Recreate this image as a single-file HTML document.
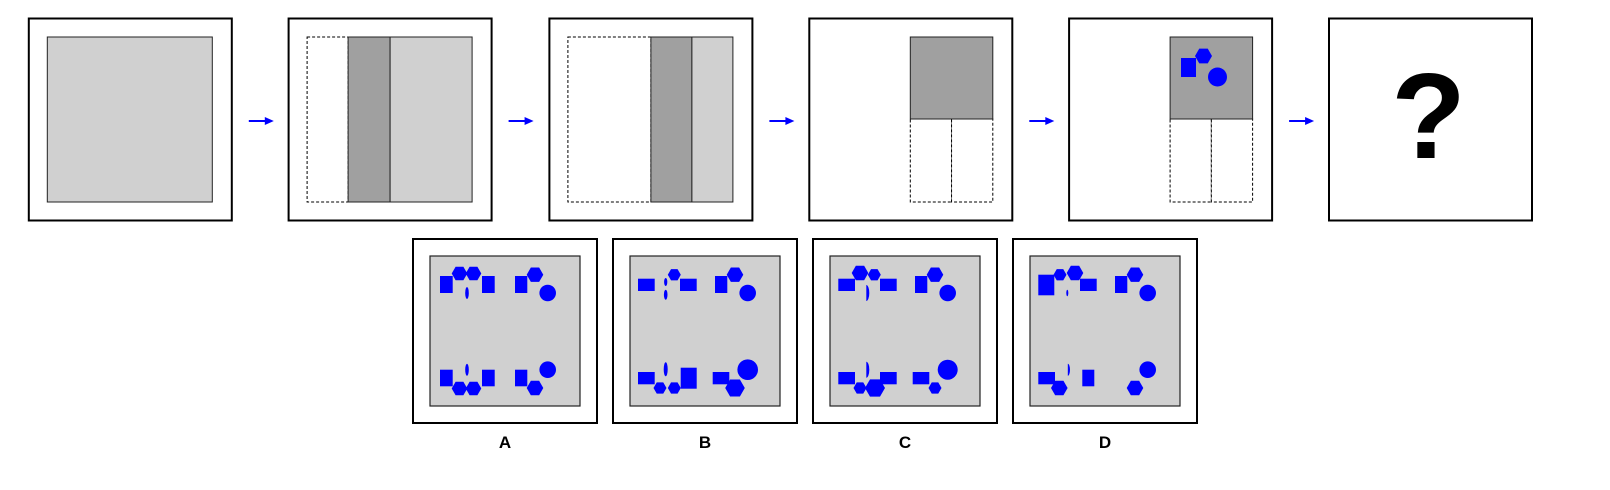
<!DOCTYPE html>
<html><head><meta charset="utf-8"><style>
html,body{margin:0;padding:0;background:#fff;}
svg{display:block;}
text{font-family:"Liberation Sans",Arial,sans-serif;font-weight:bold;}
</style></head><body>
<svg id="s" width="1610" height="490" viewBox="0 0 1610 490" xmlns="http://www.w3.org/2000/svg">
<rect width="1610" height="490" fill="#fff"/>
</svg>
<script>
const NS="http://www.w3.org/2000/svg";
const svg=document.getElementById('s');
const BLUE="#0000ff",LIGHT="#d0d0d0",DARK="#a0a0a0";
function el(tag,attrs,parent){const e=document.createElementNS(NS,tag);for(const k in attrs)e.setAttribute(k,attrs[k]);(parent||svg).appendChild(e);return e;}
function grp(name,parent){const g=el('g',{},parent);


return g;}
function hex(g,cx,cy,r){let p=[];for(let i=0;i<6;i++){const a=Math.PI/3*i;p.push((cx+r*Math.cos(a)).toFixed(2)+','+(cy+r*Math.sin(a)).toFixed(2));}
const e=el('polygon',{points:p.join(' '),fill:BLUE},g);

}
function rect(g,x1,y1,x2,y2){const e=el('rect',{x:x1,y:y1,width:x2-x1,height:y2-y1,fill:BLUE},g);

}
function circ(g,cx,cy,r){const e=el('circle',{cx:cx,cy:cy,r:r,fill:BLUE},g);

}
function ell(g,cx,cy,rx,ry,half){let e;
if(half){e=el('path',{d:`M${cx},${cy-ry} A${rx},${ry} 0 0 1 ${cx},${cy+ry} Z`,fill:BLUE},g);}
else e=el('ellipse',{cx:cx,cy:cy,rx:rx,ry:ry,fill:BLUE},g);

}

const PX=[28.8,288.6,549.4,809.3,1069.1,1329];
const PY=18.5,PW=203,PH=202,IN=18.5,IS=165;
PX.forEach((x,i)=>{
 const g=grp('sequence-panel-'+(i+1));
 el('rect',{x:x,y:PY,width:PW,height:PH,fill:'#fff',stroke:'#000','stroke-width':2},g);
 const ix=x+IN,iy=PY+IN;
 const dash={fill:'#fff',stroke:'#000','stroke-width':1,'stroke-dasharray':'3,2'};
 const solid={stroke:'#222','stroke-width':1};
 if(i==0){el('rect',Object.assign({x:ix,y:iy,width:IS,height:IS,fill:LIGHT},solid),g);}
 if(i==1){el('rect',Object.assign({x:ix,y:iy,width:41,height:IS},dash),g);
  el('rect',Object.assign({x:ix+41,y:iy,width:42,height:IS,fill:DARK},solid),g);
  el('rect',Object.assign({x:ix+83,y:iy,width:82,height:IS,fill:LIGHT},solid),g);}
 if(i==2){el('rect',Object.assign({x:ix,y:iy,width:83,height:IS},dash),g);
  el('rect',Object.assign({x:ix+83,y:iy,width:41,height:IS,fill:DARK},solid),g);
  el('rect',Object.assign({x:ix+124,y:iy,width:41,height:IS,fill:LIGHT},solid),g);}
 if(i==3||i==4){
  el('rect',Object.assign({x:ix+82.5,y:iy+82,width:41.25,height:83},dash),g);
  el('rect',Object.assign({x:ix+123.75,y:iy+82,width:41.25,height:83},dash),g);
  el('rect',Object.assign({x:ix+82.5,y:iy,width:82.5,height:82,fill:DARK},solid),g);
  if(i==4){const sg=grp('panel5-shapes',g);
   rect(sg,1181,58,1196,77);hex(sg,1203.5,56,8.5);circ(sg,1217.5,77,9.5);}
 }
 if(i==5){const t=el('text',{x:x+PW/2-2,y:158,'text-anchor':'middle','font-size':122,fill:'#000'},g);t.textContent='?';
  
  }
 if(i<5){const a=grp('arrow-'+(i+1));
  const ax=x+PW+17, ay=121;
  el('line',{x1:ax,y1:ay,x2:ax+18,y2:ay,stroke:BLUE,'stroke-width':2},a);
  el('polygon',{points:`${ax+16},${ay-4} ${ax+25},${ay} ${ax+16},${ay+4}`,fill:BLUE},a);}
});

const OX=[413,613,813,1013],OY=239,OW=184,OH=184,OI=17,OS=150;
const labels=['A','B','C','D'];
const shapes=[
 g=>{rect(g,10,20,22.7,37);hex(g,29.5,17.5,7.8);hex(g,43.5,17.5,7.8);rect(g,52,20,64.7,37);ell(g,37,37,1.8,6);
  rect(g,85,20,97.3,37);hex(g,105,18.7,8.3);circ(g,117.7,37,8.3);
  rect(g,10,113.7,22.7,130.3);hex(g,29.5,132.5,7.8);hex(g,43.5,132.5,7.8);rect(g,52,113.7,64.7,130.3);ell(g,37,113.7,1.8,6);
  rect(g,85,113.7,97.3,130.3);hex(g,105,132,8.3);circ(g,117.7,113.7,8.3);},
 g=>{rect(g,8,22.7,24.7,35);ell(g,35.7,26,1.6,4);ell(g,35.7,38.7,1.8,5);hex(g,44.3,18.7,6.5);rect(g,50,22.7,66.7,35);
  rect(g,85,20,97.3,37);hex(g,105,18.7,8.3);circ(g,117.7,37,8.3);
  rect(g,8,116,24.7,128.3);ell(g,35.7,113.3,2,7);hex(g,30,132,6.5);hex(g,44.3,132,6.5);rect(g,50.7,111.7,66.7,132.7);
  rect(g,82.7,116,99.3,128.3);hex(g,105,132,9.8);circ(g,117.7,113.7,10.3);},
 g=>{rect(g,8.3,22.7,25,35);hex(g,30,17,8.3);hex(g,44.3,18.7,6.5);rect(g,50,22.7,66.7,35);ell(g,36.3,37,3,8,true);
  rect(g,85,20,97.3,37);hex(g,105,18.7,8.3);circ(g,117.7,37,8.3);
  rect(g,8.3,116,25,128.3);hex(g,30,132,6.5);hex(g,45,132,10);rect(g,50,116,66.7,128.3);ell(g,36.3,113.7,3,8,true);
  rect(g,82.7,116,99.3,128.3);hex(g,105,132,6.5);circ(g,117.7,113.7,10);},
 g=>{rect(g,8.3,18.7,24.3,39.3);hex(g,30,18.7,6.5);hex(g,45,17,8.3);rect(g,50,22.7,66.7,35);ell(g,37.3,37,1,3.2);
  rect(g,85,20,97.3,37);hex(g,105,18.7,8.3);circ(g,117.7,37,8.3);
  rect(g,8.3,116,25,128.3);hex(g,29.3,132,8.3);ell(g,37.8,113.7,2.2,6,true);rect(g,52.3,113.7,64.3,130.3);
  hex(g,105,132,8.3);circ(g,117.7,113.7,8.3);}
];
OX.forEach((x,i)=>{
 const g=grp('option-'+labels[i].toLowerCase());
 
 el('rect',{x:x,y:OY,width:OW,height:OH,fill:'#fff',stroke:'#000','stroke-width':2},g);
 el('rect',{x:x+OI,y:OY+OI,width:OS,height:OS,fill:LIGHT,stroke:'#222','stroke-width':1.2},g);
 const sg=grp('option-'+labels[i].toLowerCase()+'-shapes',g);
 sg.setAttribute('transform',`translate(${x+OI},${OY+OI})`);
 shapes[i](sg);
 const t=el('text',{x:x+OW/2,y:448,'text-anchor':'middle','font-size':17,fill:'#000'},g);
 t.textContent=labels[i];
 
 
});
</script>
</body></html>
